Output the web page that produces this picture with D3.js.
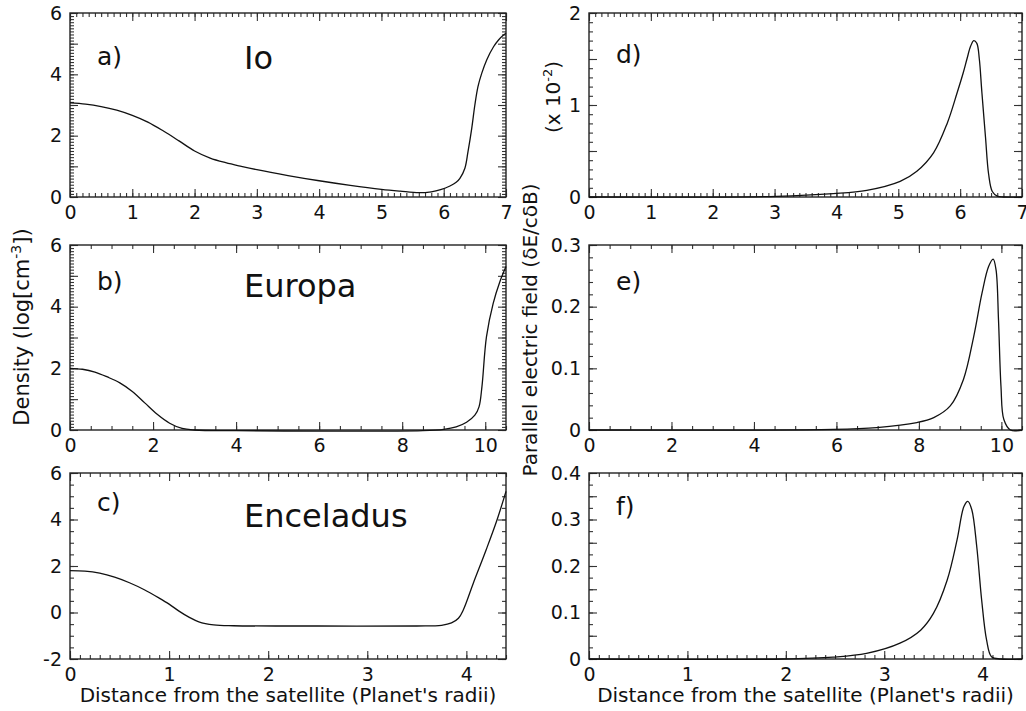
<!DOCTYPE html>
<html>
<head>
<meta charset="utf-8">
<script src="https://cdn.jsdelivr.net/npm/d3@7"></script>
<style>
body { margin: 0; background: #fff; }
svg { font-family: "DejaVu Sans", sans-serif; }
</style>
</head>
<body>
<svg id="chart" width="1026" height="711"></svg>
<script>
// density profiles, log10(cm^-3)
const ioDist = [0, 0.25, 0.5, 0.75, 1.0, 1.25, 1.5, 1.75, 2.0, 2.25, 2.5, 2.75, 3.0, 3.5, 4.0, 4.5, 5.0, 5.3, 5.6, 5.8, 5.95, 6.1, 6.2, 6.26, 6.34, 6.39, 6.45, 6.5, 6.55, 6.61, 6.69, 6.8, 6.88, 6.96, 7.0];
const ioDens = [3.07, 3.03, 2.95, 2.83, 2.66, 2.44, 2.15, 1.83, 1.5, 1.27, 1.12, 1.0, 0.89, 0.7, 0.53, 0.38, 0.25, 0.19, 0.14, 0.17, 0.24, 0.36, 0.48, 0.61, 0.94, 1.48, 2.24, 3.0, 3.6, 4.03, 4.47, 4.9, 5.12, 5.28, 5.34];

const europaDist = [0, 0.3, 0.6, 0.9, 1.2, 1.5, 1.8, 2.1, 2.4, 2.7, 3.0, 4.0, 8.5, 9.0, 9.3, 9.55, 9.75, 9.85, 9.92, 10.03, 10.19, 10.35, 10.5];
const europaDens = [2.0, 1.97, 1.88, 1.72, 1.53, 1.25, 0.88, 0.51, 0.22, 0.05, 0.0, -0.02, -0.02, 0.02, 0.1, 0.25, 0.48, 0.75, 1.4, 3.03, 4.1, 4.8, 5.3];

const encDist = [0, 0.15, 0.3, 0.45, 0.6, 0.75, 0.9, 1.0, 1.1, 1.2, 1.3, 1.45, 1.65, 2.5, 3.5, 3.75, 3.85, 3.92, 3.97, 4.07, 4.2, 4.31, 4.4];
const encDens = [1.8, 1.78, 1.69, 1.52, 1.28, 0.98, 0.62, 0.36, 0.06, -0.2, -0.4, -0.53, -0.57, -0.58, -0.58, -0.55, -0.45, -0.25, 0.12, 1.26, 2.7, 3.99, 5.21];

// parallel electric field
const ioFieldDist = [0, 3.03, 3.95, 4.49, 5.03, 5.3, 5.57, 5.79, 5.95, 6.05, 6.11, 6.17, 6.22, 6.27, 6.31, 6.35, 6.41, 6.46, 6.52, 6.6, 6.7, 7];
const ioField = [0, 0.007, 0.036, 0.072, 0.17, 0.28, 0.48, 0.8, 1.13, 1.35, 1.5, 1.64, 1.7, 1.67, 1.5, 1.15, 0.65, 0.25, 0.06, 0.01, 0, 0];

const europaFieldDist = [0, 5.93, 6.98, 7.95, 8.36, 8.76, 9.08, 9.33, 9.53, 9.69, 9.8, 9.87, 9.93, 9.99, 10.06, 10.22, 10.5];
const europaField = [0, 0.001, 0.004, 0.012, 0.02, 0.039, 0.082, 0.152, 0.222, 0.265, 0.277, 0.26, 0.179, 0.071, 0.017, 0, 0];

const encFieldDist = [0, 1.97, 2.48, 2.82, 3.16, 3.37, 3.5, 3.64, 3.74, 3.81, 3.85, 3.89, 3.94, 3.99, 4.04, 4.09, 4.18, 4.4];
const encField = [0, 0, 0.004, 0.012, 0.034, 0.062, 0.098, 0.17, 0.256, 0.328, 0.339, 0.321, 0.242, 0.127, 0.041, 0.005, 0, 0];

// tick labels
const xTicksIo = [0, 1, 2, 3, 4, 5, 6, 7];
const xTicksEuropa = [0, 2, 4, 6, 8, 10];
const xTicksEnc = [0, 1, 2, 3, 4];
const yTicksDens = [0, 2, 4, 6];
const yTicksEncDens = [-2, 0, 2, 4, 6];
const yTicksIoField = [0, 1, 2];
const yTicksEuropaField = [0, 0.1, 0.2, 0.3];
const yTicksEncField = [0, 0.1, 0.2, 0.3, 0.4];

const panelTags = ["a)", "b)", "c)", "d)", "e)", "f)"];
const moonNames = ["Io", "Europa", "Enceladus"];

const cols = [{ x0: 70, x1: 506 }, { x0: 589, x1: 1022 }];
const rows = [{ y0: 13, y1: 197 }, { y0: 245, y1: 430 }, { y0: 473, y1: 659 }];

const svg = d3.select("#chart");

const line = d3.line().curve(d3.curveCatmullRom.alpha(0.5));

function step(a, b, s) {
  return d3.range(Math.round((b - a) / s) + 1).map(i => +(a + i * s).toFixed(4));
}

function drawPanel(p) {
  const x = d3.scaleLinear().domain(p.xDomain).range([p.col.x0, p.col.x1]);
  const y = d3.scaleLinear().domain(p.yDomain).range([p.row.y1, p.row.y0]);
  const g = svg.append("g");

  const fmt = d => String(d);

  const xMinor = step(p.xDomain[0], p.xDomain[1], p.xMinor);
  const yMinor = step(p.yDomain[0], p.yDomain[1], p.yMinor);
  const xMajor = step(p.xDomain[0], p.xDomain[1], p.xMajor);
  const yMajor = step(p.yDomain[0], p.yDomain[1], p.yMajor);

  // inward ticks on all four sides
  const axes = [
    [d3.axisBottom(x), xMinor, 4, `translate(0,${p.row.y1})`],
    [d3.axisTop(x), xMinor, 4, `translate(0,${p.row.y0})`],
    [d3.axisLeft(y), yMinor, 4, `translate(${p.col.x0},0)`],
    [d3.axisRight(y), yMinor, 4, `translate(${p.col.x1},0)`],
    [d3.axisBottom(x), xMajor, 8, `translate(0,${p.row.y1})`],
    [d3.axisTop(x), xMajor, 8, `translate(0,${p.row.y0})`],
    [d3.axisLeft(y), yMajor, 8, `translate(${p.col.x0},0)`],
    [d3.axisRight(y), yMajor, 8, `translate(${p.col.x1},0)`]
  ];
  axes.forEach(([ax, vals, len, tr]) => {
    const a = g.append("g").attr("transform", tr)
      .call(ax.tickValues(vals).tickSizeInner(-len).tickSizeOuter(0).tickFormat(() => ""));
    a.select(".domain").remove();
    a.selectAll(".tick line").attr("stroke", "#333").attr("stroke-width", 1.1);
  });

  // labelled ticks
  g.append("g")
    .attr("transform", `translate(0,${p.row.y1})`)
    .call(d3.axisBottom(x).tickValues(p.xTicks).tickFormat(fmt).tickSize(0).tickPadding(9))
    .call(s => s.select(".domain").remove())
    .call(s => s.selectAll(".tick line").remove());
  g.append("g")
    .attr("transform", `translate(${p.col.x0},0)`)
    .call(d3.axisLeft(y).tickValues(p.yTicks).tickFormat(fmt).tickSize(0).tickPadding(8))
    .call(s => s.select(".domain").remove())
    .call(s => s.selectAll(".tick line").remove());

  g.selectAll(".tick text").attr("font-family", "DejaVu Sans").attr("font-size", 19).attr("fill", "#111");

  g.append("rect")
    .attr("x", p.col.x0).attr("y", p.row.y0)
    .attr("width", p.col.x1 - p.col.x0).attr("height", p.row.y1 - p.row.y0)
    .attr("fill", "none").attr("stroke", "#222").attr("stroke-width", 1.4);

  const pts = p.xs.map((d, i) => [x(d), y(p.ys[i])]);
  g.append("path")
    .attr("d", line(pts))
    .attr("fill", "none")
    .attr("stroke", "#111")
    .attr("stroke-width", 1.3);

  g.append("text")
    .attr("x", p.col.x0 + 27).attr("y", p.row.y0 + p.tagDy)
    .attr("font-size", 25).attr("fill", "#111")
    .text(p.tag);

  if (p.name) {
    g.append("text")
      .attr("x", 244).attr("y", p.row.y0 + p.nameDy)
      .attr("font-size", 32).attr("fill", "#111")
      .text(p.name);
  }
}

const panels = [
  { col: cols[0], row: rows[0], xDomain: [0, 7], yDomain: [0, 6], xTicks: xTicksIo, yTicks: yTicksDens,
    xMinor: 0.1, xMajor: 1, yMinor: 0.1, yMajor: 1, xs: ioDist, ys: ioDens, tag: panelTags[0], tagDy: 52, name: moonNames[0], nameDy: 56 },
  { col: cols[0], row: rows[1], xDomain: [0, 10.5], yDomain: [0, 6], xTicks: xTicksEuropa, yTicks: yTicksDens,
    xMinor: 0.5, xMajor: 2, yMinor: 0.1, yMajor: 1, xs: europaDist, ys: europaDens, tag: panelTags[1], tagDy: 45, name: moonNames[1], nameDy: 52 },
  { col: cols[0], row: rows[2], xDomain: [0, 4.4], yDomain: [-2, 6], xTicks: xTicksEnc, yTicks: yTicksEncDens,
    xMinor: 0.1, xMajor: 1, yMinor: 0.5, yMajor: 2, xs: encDist, ys: encDens, tag: panelTags[2], tagDy: 38, name: moonNames[2], nameDy: 54 },
  { col: cols[1], row: rows[0], xDomain: [0, 7], yDomain: [0, 2], xTicks: xTicksIo, yTicks: yTicksIoField,
    xMinor: 0.1, xMajor: 1, yMinor: 0.1, yMajor: 0.5, xs: ioFieldDist, ys: ioField, tag: panelTags[3], tagDy: 50 },
  { col: cols[1], row: rows[1], xDomain: [0, 10.5], yDomain: [0, 0.3], xTicks: xTicksEuropa, yTicks: yTicksEuropaField,
    xMinor: 0.5, xMajor: 2, yMinor: 0.02, yMajor: 0.1, xs: europaFieldDist, ys: europaField, tag: panelTags[4], tagDy: 45 },
  { col: cols[1], row: rows[2], xDomain: [0, 4.4], yDomain: [0, 0.4], xTicks: xTicksEnc, yTicks: yTicksEncField,
    xMinor: 0.1, xMajor: 1, yMinor: 0.025, yMajor: 0.05, xs: encFieldDist, ys: encField, tag: panelTags[5], tagDy: 42 }
];

panels.forEach(drawPanel);

// axis titles
const xTitle = "Distance from the satellite (Planet's radii)";
cols.forEach(c => {
  svg.append("text")
    .attr("x", (c.x0 + c.x1) / 2).attr("y", 702)
    .attr("text-anchor", "middle").attr("font-size", 20).attr("fill", "#111")
    .text(xTitle);
});

const densTitle = svg.append("text")
  .attr("transform", "translate(29,327) rotate(-90)")
  .attr("text-anchor", "middle").attr("font-size", 21).attr("fill", "#111");
densTitle.append("tspan").text("Density (log[cm");
densTitle.append("tspan").attr("font-size", 14).attr("dy", -8).text("-3");
densTitle.append("tspan").attr("dy", 8).text("])");

svg.append("text")
  .attr("transform", "translate(537,330) rotate(-90)")
  .attr("text-anchor", "middle").attr("font-size", 20).attr("fill", "#111")
  .text("Parallel electric field (\u03b4E/c\u03b4B)");

const scaleNote = svg.append("text")
  .attr("transform", "translate(560,97) rotate(-90)")
  .attr("text-anchor", "middle").attr("font-size", 20).attr("fill", "#111");
scaleNote.append("tspan").text("(x 10");
scaleNote.append("tspan").attr("font-size", 13).attr("dy", -8).text("-2");
scaleNote.append("tspan").attr("dy", 8).text(")");
</script>
</body>
</html>
